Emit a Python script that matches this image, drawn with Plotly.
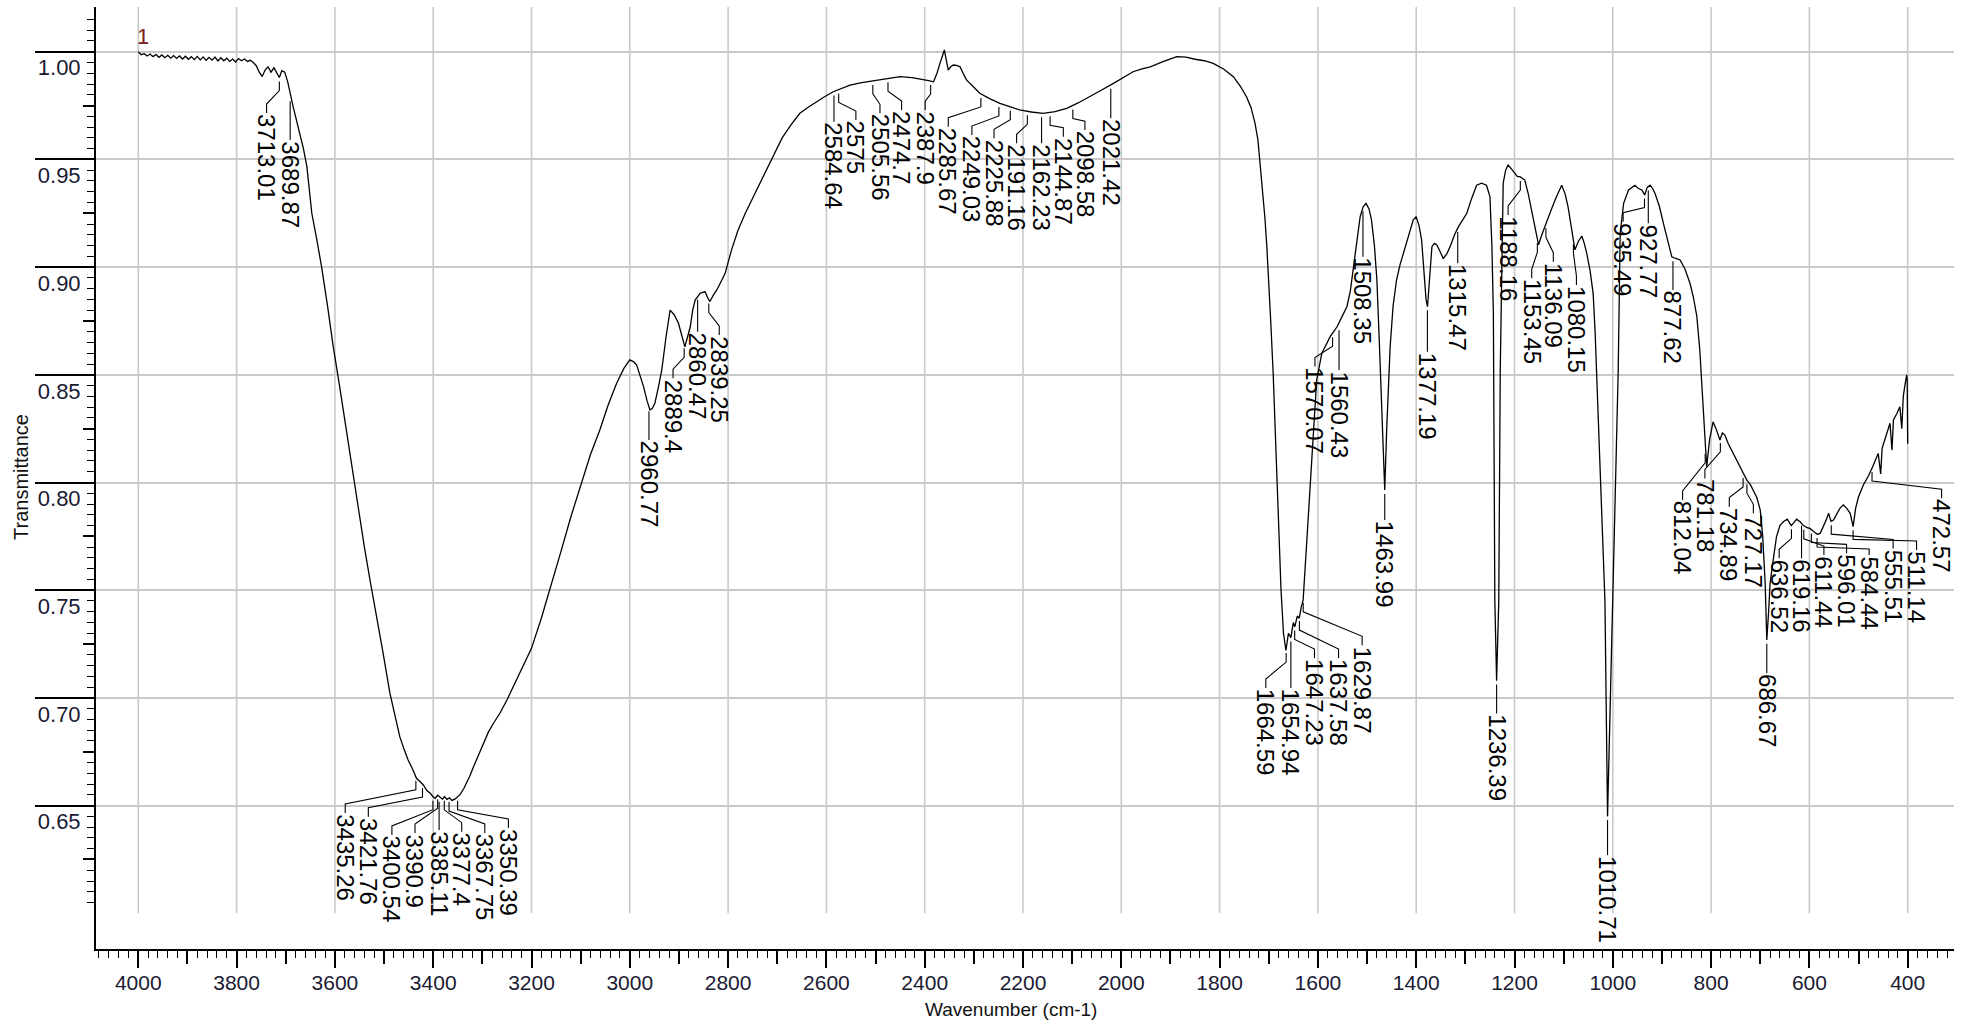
import numpy as np
import plotly.graph_objects as go

# ---------------- data ----------------
wavenumber = [4000, 3994, 3988, 3982, 3976, 3970, 3964, 3958, 3952, 3946, 3940, 3934, 3928, 3922, 3916, 3910,
              3904, 3898, 3892, 3886, 3880, 3874, 3868, 3862, 3856, 3850, 3844, 3838, 3832, 3826, 3820, 3814,
              3808, 3802, 3796, 3790, 3784, 3778, 3772, 3766, 3760, 3754, 3748, 3742, 3736, 3730, 3724, 3718,
              3713, 3708, 3702, 3696, 3690, 3685, 3678, 3671, 3664, 3657, 3647, 3637, 3627, 3615, 3604, 3590,
              3578, 3565, 3553, 3540, 3528, 3515, 3503, 3488, 3478, 3468, 3459, 3451, 3442, 3434, 3427, 3420,
              3413, 3406, 3400, 3396, 3391, 3386, 3381, 3377, 3372, 3367, 3362, 3356, 3350, 3345, 3338, 3332,
              3325, 3318, 3308, 3298, 3288, 3278, 3264, 3250, 3235, 3220, 3200, 3180, 3160, 3140, 3120, 3100,
              3080, 3061, 3044, 3027, 3012, 3000, 2992, 2986, 2979, 2972, 2965, 2959, 2954, 2949, 2942, 2935,
              2926, 2918, 2910, 2901, 2894, 2888, 2882, 2877, 2872, 2867, 2857, 2847, 2842, 2837, 2830, 2823,
              2815, 2806, 2793, 2780, 2765, 2750, 2735, 2720, 2705, 2690, 2672, 2654, 2637, 2620, 2603, 2586,
              2569, 2552, 2528, 2504, 2477, 2450, 2426, 2403, 2392, 2382, 2375, 2369, 2364, 2360, 2356, 2352,
              2347, 2342, 2335, 2328, 2322, 2315, 2300, 2288, 2268, 2247, 2227, 2207, 2183, 2159, 2135, 2111,
              2088, 2064, 2040, 2016, 1996, 1976, 1958, 1941, 1914, 1887, 1868, 1850, 1831, 1813, 1792, 1772,
              1758, 1745, 1736, 1728, 1722, 1718, 1712, 1708, 1704, 1701, 1696, 1691, 1685, 1680, 1675, 1670,
              1665, 1660, 1655, 1650, 1647, 1642, 1638, 1634, 1630, 1622, 1612, 1602.5, 1592, 1583, 1575, 1568,
              1561, 1551, 1541, 1534, 1528, 1520, 1514, 1508, 1502, 1496, 1491, 1485, 1480, 1475, 1470, 1466,
              1464, 1460, 1456, 1453, 1447, 1440, 1433, 1426, 1416, 1406, 1400, 1394, 1389, 1384, 1380, 1377,
              1373, 1368, 1363, 1358, 1351, 1345, 1338, 1331, 1322, 1314, 1305, 1297, 1287, 1277, 1267, 1257,
              1250, 1246, 1243, 1240, 1236.4, 1232, 1229, 1226, 1223, 1218, 1213, 1206, 1199, 1194, 1189, 1184,
              1179, 1172, 1165, 1158, 1151, 1146, 1141, 1134, 1128, 1116, 1104, 1097, 1091, 1084, 1077, 1070,
              1063, 1058, 1053, 1046, 1040, 1036, 1033, 1025, 1016, 1010.7, 1005, 999, 994, 989, 985, 978,
              968, 962, 955, 948, 941, 935, 930, 924, 919, 914, 905, 897, 888, 880, 872, 863,
              853, 843, 836, 829, 823, 819, 816, 812, 809, 803, 796, 790, 785, 782, 777, 772,
              765, 755, 745, 738, 735, 727, 720, 714, 707, 700, 695, 690, 686.7, 683, 680, 673,
              667, 660, 653, 645, 637, 633, 626, 619, 612, 605, 599, 590, 584, 578, 570, 565,
              561, 556, 551, 545, 538, 531, 524, 517, 511, 506, 500, 490, 480, 472, 465, 460,
              455, 452, 445, 436, 432, 429, 422, 416, 412, 409, 405, 402, 401, 400]

transmittance = [1.0000, 0.9986, 0.9991, 0.9980, 0.9989, 0.9977, 0.9987, 0.9974, 0.9985, 0.9972, 0.9983, 0.9970, 0.9982, 0.9969, 0.9980, 0.9966,
                 0.9979, 0.9965, 0.9977, 0.9963, 0.9978, 0.9962, 0.9976, 0.9960, 0.9974, 0.9961, 0.9975, 0.9957, 0.9972, 0.9958, 0.9970, 0.9955,
                 0.9966, 0.9952, 0.9968, 0.9958, 0.9966, 0.9955, 0.9960, 0.9950, 0.9935, 0.9905, 0.9885, 0.9915, 0.9930, 0.9905, 0.9925, 0.9900,
                 0.9880, 0.9912, 0.9905, 0.9860, 0.9790, 0.9745, 0.9680, 0.9620, 0.9550, 0.9466, 0.9250, 0.9130, 0.9000, 0.8820, 0.8640, 0.8440,
                 0.8260, 0.8060, 0.7880, 0.7700, 0.7540, 0.7380, 0.7222, 0.7021, 0.6913, 0.6820, 0.6760, 0.6712, 0.6670, 0.6627, 0.6612, 0.6596,
                 0.6570, 0.6557, 0.6540, 0.6534, 0.6548, 0.6538, 0.6530, 0.6542, 0.6529, 0.6536, 0.6524, 0.6530, 0.6542, 0.6552, 0.6578, 0.6604,
                 0.6640, 0.6680, 0.6735, 0.6790, 0.6840, 0.6880, 0.6930, 0.6990, 0.7060, 0.7130, 0.7230, 0.7370, 0.7520, 0.7680, 0.7840, 0.7990,
                 0.8130, 0.8244, 0.8360, 0.8460, 0.8530, 0.8569, 0.8560, 0.8545, 0.8500, 0.8445, 0.8380, 0.8337, 0.8345, 0.8368, 0.8440, 0.8522,
                 0.8680, 0.8800, 0.8780, 0.8739, 0.8680, 0.8630, 0.8680, 0.8723, 0.8800, 0.8847, 0.8878, 0.8886, 0.8860, 0.8840, 0.8870, 0.8894,
                 0.8930, 0.8971, 0.9080, 0.9170, 0.9250, 0.9320, 0.9390, 0.9460, 0.9530, 0.9600, 0.9660, 0.9714, 0.9742, 0.9768, 0.9792, 0.9814,
                 0.9830, 0.9845, 0.9856, 0.9865, 0.9876, 0.9884, 0.9880, 0.9872, 0.9866, 0.9860, 0.9900, 0.9946, 0.9985, 1.0008, 0.9960, 0.9915,
                 0.9930, 0.9938, 0.9936, 0.9930, 0.9900, 0.9869, 0.9835, 0.9807, 0.9782, 0.9760, 0.9745, 0.9730, 0.9720, 0.9714, 0.9722, 0.9737,
                 0.9762, 0.9791, 0.9822, 0.9853, 0.9880, 0.9907, 0.9920, 0.9930, 0.9955, 0.9977, 0.9975, 0.9965, 0.9958, 0.9946, 0.9920, 0.9884,
                 0.9840, 0.9790, 0.9740, 0.9668, 0.9590, 0.9497, 0.9350, 0.9234, 0.9100, 0.8987, 0.8750, 0.8507, 0.8100, 0.7800, 0.7500, 0.7300,
                 0.7220, 0.7300, 0.7280, 0.7350, 0.7330, 0.7380, 0.7370, 0.7420, 0.7455, 0.7750, 0.8150, 0.8476, 0.8600, 0.8640, 0.8677, 0.8700,
                 0.8723, 0.8770, 0.8816, 0.8890, 0.8987, 0.9120, 0.9234, 0.9280, 0.9296, 0.9270, 0.9219, 0.9100, 0.8940, 0.8650, 0.8320, 0.8050,
                 0.7965, 0.8250, 0.8480, 0.8630, 0.8820, 0.8940, 0.9010, 0.9064, 0.9150, 0.9219, 0.9234, 0.9190, 0.9126, 0.8980, 0.8850, 0.8816,
                 0.8960, 0.9095, 0.9110, 0.9103, 0.9070, 0.9040, 0.9060, 0.9095, 0.9150, 0.9188, 0.9220, 0.9250, 0.9320, 0.9380, 0.9390, 0.9380,
                 0.9327, 0.9100, 0.8785, 0.7450, 0.7080, 0.7450, 0.8520, 0.9100, 0.9390, 0.9450, 0.9474, 0.9455, 0.9435, 0.9420, 0.9420, 0.9410,
                 0.9404, 0.9340, 0.9265, 0.9180, 0.9103, 0.9140, 0.9172, 0.9210, 0.9250, 0.9320, 0.9380, 0.9340, 0.9280, 0.9180, 0.9080, 0.9120,
                 0.9144, 0.9110, 0.9064, 0.8980, 0.8878, 0.8700, 0.8520, 0.8000, 0.7450, 0.6450, 0.7000, 0.7450, 0.8000, 0.8520, 0.9157, 0.9296,
                 0.9358, 0.9370, 0.9380, 0.9365, 0.9358, 0.9335, 0.9370, 0.9380, 0.9365, 0.9342, 0.9280, 0.9203, 0.9120, 0.9048, 0.9040, 0.9033,
                 0.8990, 0.8925, 0.8860, 0.8770, 0.8615, 0.8450, 0.8306, 0.8150, 0.8073, 0.8200, 0.8282, 0.8250, 0.8210, 0.8197, 0.8230, 0.8220,
                 0.8180, 0.8135, 0.8090, 0.8058, 0.8040, 0.8010, 0.7990, 0.7965, 0.7930, 0.7872, 0.7750, 0.7532, 0.7269, 0.7400, 0.7532, 0.7650,
                 0.7748, 0.7800, 0.7818, 0.7830, 0.7800, 0.7810, 0.7830, 0.7818, 0.7800, 0.7790, 0.7787, 0.7770, 0.7760, 0.7764, 0.7800, 0.7830,
                 0.7857, 0.7820, 0.7826, 0.7850, 0.7880, 0.7896, 0.7880, 0.7857, 0.7795, 0.7880, 0.7934, 0.7990, 0.8030, 0.8070, 0.8110, 0.8135,
                 0.8040, 0.8160, 0.8210, 0.8275, 0.8150, 0.8290, 0.8320, 0.8352, 0.8250, 0.8400, 0.8460, 0.8500, 0.8476, 0.8180]

peak_labels = ["3713.01", "3689.87",
               "3435.26", "3421.76", "3400.54", "3390.9", "3385.11", "3377.4", "3367.75", "3350.39",
               "2960.77", "2889.4", "2860.47", "2839.25",
               "2584.64", "2575", "2505.56", "2474.7", "2387.9", "2285.67", "2249.03", "2225.88",
               "2191.16", "2162.23", "2144.87", "2098.58", "2021.42",
               "1664.59", "1654.94", "1647.23", "1637.58", "1629.87",
               "1570.07", "1560.43", "1508.35", "1463.99", "1377.19", "1315.47", "1236.39",
               "1188.16", "1153.45", "1136.09", "1080.15", "1010.71", "935.49", "927.77", "877.62",
               "812.04", "781.18", "734.89", "727.17", "686.67", "636.52", "619.16", "611.44",
               "596.01", "584.44", "555.51", "511.14", "472.57"]

spectrum_name = "1"

x_ticks = list(range(400, 4001, 200))
y_ticks = [0.65, 0.70, 0.75, 0.80, 0.85, 0.90, 0.95, 1.00]

# ---------------- label placement (layout, not data) ----------------
# text column position in cm-1 and the top of the rotated text in transmittance units
label_col_x = [3739, 3691,
               3579, 3532, 3484, 3437, 3388, 3342, 3295, 3247,
               2961, 2912, 2862, 2818,
               2584.6, 2540, 2491, 2447, 2399, 2352, 2304, 2259,
               2213, 2162.2, 2118, 2074, 2021.4,
               1706, 1655, 1607, 1558, 1510,
               1606, 1557, 1508.3, 1464, 1377.2, 1315.5, 1236.4,
               1213, 1165, 1121, 1074, 1010.7, 979, 927.8, 877.6,
               858, 812.6, 763, 714, 686.7, 661.5, 616, 570.5,
               524.4, 478.4, 429.6, 382, 331]
label_col_top = [0.9715, 0.9590,
                 0.6466, 0.6448, 0.6364, 0.6373, 0.6387, 0.6379, 0.6373, 0.6396,
                 0.8197, 0.8484, 0.8700, 0.8685,
                 0.9675, 0.9683, 0.9714, 0.9729, 0.9729, 0.9652, 0.9613, 0.9598,
                 0.9575, 0.9575, 0.9605, 0.9636, 0.9691,
                 0.7046, 0.7046, 0.7185, 0.7185, 0.7244,
                 0.8538, 0.8522, 0.9048, 0.7826, 0.8607, 0.9018, 0.6928,
                 0.9242, 0.8948, 0.9025, 0.8917, 0.6270, 0.9211, 0.9203, 0.8894,
                 0.7919, 0.8019, 0.7888, 0.7857, 0.7114, 0.7648, 0.7648, 0.7663,
                 0.7671, 0.7663, 0.7694, 0.7687, 0.7927]

# ---------------- geometry ----------------
W, H = 1969, 1027
M_L, M_R, M_T, M_B = 96, 15, 7, 78
X_RANGE = [4086.06, 305.8]
Y_RANGE = [0.58343, 1.02075]
plot_w = W - M_L - M_R
plot_h = H - M_T - M_B
wn_per_px = (X_RANGE[0] - X_RANGE[1]) / plot_w
t_per_px = (Y_RANGE[1] - Y_RANGE[0]) / plot_h

wn_arr = np.array(wavenumber, dtype=float)
t_arr = np.array(transmittance, dtype=float)
order = np.argsort(wn_arr)
wn_sorted, t_sorted = wn_arr[order], t_arr[order]

FONT = "Liberation Sans, Arial, sans-serif"

fig = go.Figure()

# leader lines
lx, ly = [], []
for txt, cx, top in zip(peak_labels, label_col_x, label_col_top):
    pk = float(txt)
    tc = float(np.interp(pk, wn_sorted, t_sorted))
    start = tc - 4 * t_per_px
    if abs(cx - pk) < 3 * wn_per_px:
        lx += [cx, cx, None]
        ly += [start, top, None]
    else:
        k1 = start - 9 * t_per_px
        k2 = top + 9 * t_per_px
        if k2 > k1:
            k2 = k1 - 2 * t_per_px
        lx += [pk, pk, cx, cx, None]
        ly += [start, k1, k2, top, None]

fig.add_trace(go.Scatter(x=lx, y=ly, mode="lines", line=dict(color="black", width=1.1),
                         hoverinfo="skip", showlegend=False))

fig.add_trace(go.Scatter(x=wavenumber, y=transmittance, mode="lines",
                         line=dict(color="black", width=1.3), name=spectrum_name, showlegend=False))

# invisible traces for overlay axes (intermediate ticks)
fig.add_trace(go.Scatter(x=[X_RANGE[0]], y=[Y_RANGE[0]], xaxis="x2", yaxis="y2", mode="markers",
                         marker=dict(opacity=0), hoverinfo="skip", showlegend=False))

# vertical grid lines (stop above the axis)
for v in x_ticks:
    fig.add_shape(type="line", x0=v, x1=v, y0=0.60, y1=Y_RANGE[1], xref="x", yref="y",
                  line=dict(color="#c9c9c9", width=1.6), layer="below")

# peak labels
for txt, cx, top in zip(peak_labels, label_col_x, label_col_top):
    fig.add_annotation(x=cx, y=top, text=txt, textangle=90, showarrow=False,
                       xanchor="center", yanchor="top", borderpad=0,
                       font=dict(family=FONT, size=24, color="black"))

fig.add_annotation(x=3990, y=1.0005, text=spectrum_name, showarrow=False, xanchor="center", yanchor="bottom",
                   font=dict(family=FONT, size=22, color="#7a2020"))

# axis titles
fig.add_annotation(xref="paper", yref="paper", x=(21 - M_L) / plot_w, y=(H - M_B - 477) / plot_h,
                   text="Transmittance", textangle=-90, showarrow=False, xanchor="center", yanchor="middle",
                   font=dict(family=FONT, size=20, color="#111111"))
fig.add_annotation(xref="paper", yref="paper", x=(1011 - M_L) / plot_w, y=-(1009 - (H - M_B)) / plot_h,
                   text="Wavenumber (cm-1)", showarrow=False, xanchor="center", yanchor="middle",
                   font=dict(family=FONT, size=19, color="#111111"))

x_minor = [v for v in range(320, 4081, 20) if v % 100 != 0]
x_mid = [v for v in range(500, 4001, 200)]
y_minor = [round(0.605 + 0.005 * i, 3) for i in range(83)]
y_minor = [v for v in y_minor if v <= 1.016 and round(v * 1000) % 25 != 0]
y_mid = [0.625, 0.675, 0.725, 0.775, 0.825, 0.875, 0.925, 0.975]

fig.update_layout(
    width=W, height=H,
    margin=dict(l=M_L, r=M_R, t=M_T, b=M_B),
    paper_bgcolor="white", plot_bgcolor="white",
    showlegend=False,
    xaxis=dict(range=X_RANGE, tickmode="array", tickvals=x_ticks, ticktext=[str(v) for v in x_ticks],
               ticks="outside", ticklen=17, tickwidth=1.6, tickcolor="black",
               showline=True, linecolor="black", linewidth=2, showgrid=False, zeroline=False,
               ticklabelstandoff=-3,
               tickfont=dict(family=FONT, size=21, color="#1a1a33"),
               minor=dict(tickmode="array", tickvals=x_minor, ticks="outside", ticklen=7,
                          tickwidth=1.4, tickcolor="black", showgrid=False)),
    xaxis2=dict(range=X_RANGE, overlaying="x", anchor="y", side="bottom", tickmode="array",
                tickvals=x_mid, ticks="outside", ticklen=14, tickwidth=1.6, tickcolor="black",
                showticklabels=False, showgrid=False, zeroline=False, showline=False),
    yaxis=dict(range=Y_RANGE, tickmode="array", tickvals=y_ticks, ticktext=["%.2f" % v for v in y_ticks],
               ticks="outside", ticklen=59, tickwidth=2, tickcolor="black",
               showline=True, linecolor="black", linewidth=2, showgrid=True, gridcolor="#c9c9c9",
               gridwidth=1.6, zeroline=False, ticklabelshift=16, ticklabelstandoff=-50,
               tickfont=dict(family=FONT, size=22, color="#1a1a33"),
               minor=dict(tickmode="array", tickvals=y_minor, ticks="outside", ticklen=7,
                          tickwidth=1.4, tickcolor="black", showgrid=False)),
    yaxis2=dict(range=Y_RANGE, overlaying="y", anchor="x", side="left", tickmode="array",
                tickvals=y_mid, ticks="outside", ticklen=12, tickwidth=1.6, tickcolor="black",
                showticklabels=False, showgrid=False, zeroline=False, showline=False),
)

fig.write_html("out.html")
